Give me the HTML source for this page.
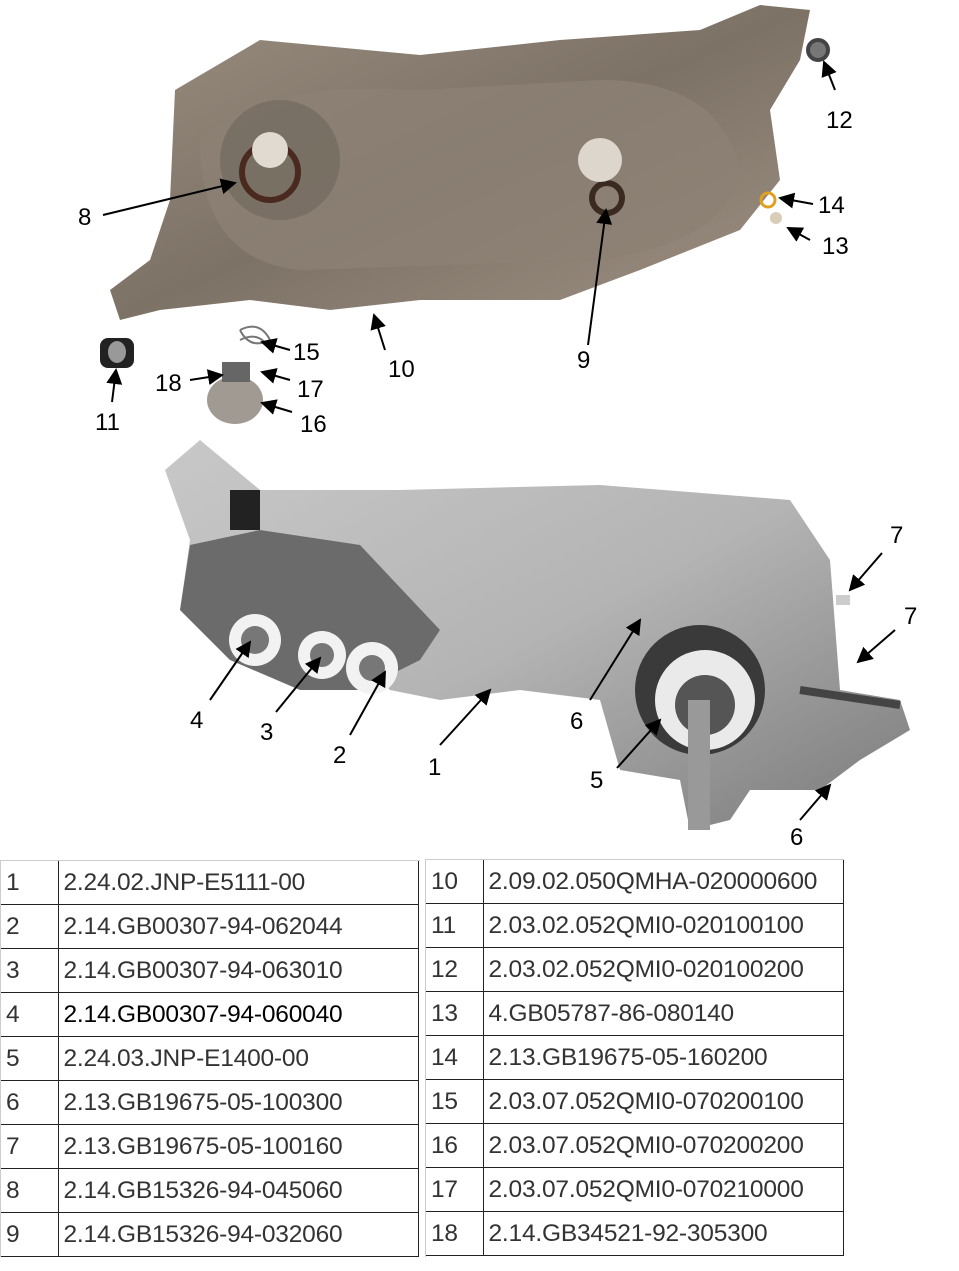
<!DOCTYPE html>
<html><head><meta charset="utf-8"><style>
body{margin:0;width:959px;height:1271px;background:#fff;position:relative;overflow:hidden;font-family:"Liberation Sans",Calibri,sans-serif}
svg{position:absolute;left:0;top:0}
.t{position:absolute;border-collapse:collapse;font-size:24.5px;color:#333;letter-spacing:-0.2px}
.t td{height:43px;border-bottom:1.5px solid #222;padding:0 0 0 5px;line-height:43px;white-space:nowrap}
.t td.a{border-right:1.5px solid #222}
</style></head><body>
<svg width="959" height="850" viewBox="0 0 959 850">
<defs>
<linearGradient id="u" x1="0" y1="0" x2="1" y2="1"><stop offset="0" stop-color="#9a8e80"/><stop offset=".5" stop-color="#7d7266"/><stop offset="1" stop-color="#a09285"/></linearGradient>
<linearGradient id="l" x1="0" y1="0" x2="1" y2="1"><stop offset="0" stop-color="#c8c8c8"/><stop offset=".5" stop-color="#b4b4b4"/><stop offset="1" stop-color="#7a7a7a"/></linearGradient>
<marker id="ar" markerWidth="8" markerHeight="8" refX="7" refY="4" orient="auto"><path d="M0,0L8,4L0,8z" fill="#000"/></marker>
</defs>
<path d="M175,90 L260,40 L420,55 L560,40 L700,30 L760,5 L810,10 L800,60 L770,110 L780,180 L740,230 L640,270 L560,300 L420,300 L330,310 L250,300 L160,310 L120,320 L110,290 L150,260 L170,200 Z" fill="url(#u)"/>
<path d="M200,140 Q260,80 420,90 L600,80 Q720,80 740,170 Q730,240 600,260 L300,270 Q200,260 200,140Z" fill="#8c8174" opacity=".8"/>
<circle cx="280" cy="160" r="60" fill="#6e655b" opacity=".6"/>
<circle cx="270" cy="172" r="28" fill="none" stroke="#4a2a1f" stroke-width="6"/>
<circle cx="270" cy="150" r="18" fill="#e0dad0"/>
<circle cx="607" cy="198" r="15" fill="none" stroke="#3a2a22" stroke-width="6"/>
<circle cx="600" cy="160" r="22" fill="#ddd6cc"/>
<circle cx="818" cy="50" r="10" fill="#777" stroke="#444" stroke-width="4"/>
<circle cx="768" cy="200" r="7" fill="none" stroke="#e0a020" stroke-width="3"/>
<circle cx="776" cy="218" r="6" fill="#d8cdb8"/>
<rect x="100" y="338" width="34" height="30" rx="8" fill="#222"/><ellipse cx="117" cy="352" rx="9" ry="11" fill="#999"/>
<path d="M240,330 q20,-10 30,10 q-20,10 -30,-10 m0,10 q20,-10 30,10" stroke="#777" fill="none" stroke-width="2"/>
<ellipse cx="235" cy="400" rx="28" ry="24" fill="#a09a92"/>
<rect x="222" y="362" width="28" height="20" fill="#666"/>
<path d="M165,470 L200,440 L260,490 L400,490 L600,485 L790,500 L830,560 L840,690 L900,700 L910,730 L860,760 L820,790 L750,790 L730,820 L690,830 L680,780 L620,770 L600,700 L520,690 L440,700 L390,690 L380,680 L300,680 L230,660 L180,610 L190,540 Z" fill="url(#l)"/>
<path d="M190,545 L260,530 L360,545 L440,630 L420,660 L360,690 L300,690 L230,660 L180,610Z" fill="#6b6b6b"/>
<circle cx="255" cy="640" r="26" fill="#f2f2f2"/><circle cx="255" cy="640" r="14" fill="#777"/>
<circle cx="322" cy="655" r="24" fill="#f2f2f2"/><circle cx="322" cy="655" r="12" fill="#777"/>
<circle cx="372" cy="668" r="26" fill="#f2f2f2"/><circle cx="372" cy="668" r="13" fill="#777"/>
<rect x="230" y="490" width="30" height="40" fill="#222"/>
<circle cx="700" cy="690" r="65" fill="#3a3a3a"/><circle cx="705" cy="700" r="50" fill="#eaeaea"/><circle cx="705" cy="705" r="30" fill="#555"/>
<rect x="688" y="700" width="22" height="130" fill="#999"/>
<path d="M800,690 L900,705" stroke="#444" stroke-width="8"/>
<rect x="836" y="595" width="14" height="10" fill="#ccc"/>
<g stroke="#000" stroke-width="2" fill="none" marker-end="url(#ar)">
<line x1="103" y1="215" x2="235" y2="183"/>
<line x1="588" y1="345" x2="606" y2="210"/>
<line x1="385" y1="350" x2="374" y2="315"/>
<line x1="112" y1="402" x2="116" y2="370"/>
<line x1="835" y1="90" x2="824" y2="62"/>
<line x1="813" y1="204" x2="780" y2="198"/>
<line x1="810" y1="240" x2="788" y2="228"/>
<line x1="290" y1="350" x2="262" y2="342"/>
<line x1="290" y1="380" x2="262" y2="372"/>
<line x1="190" y1="380" x2="222" y2="375"/>
<line x1="292" y1="412" x2="262" y2="403"/>
<line x1="210" y1="700" x2="250" y2="642"/>
<line x1="276" y1="712" x2="320" y2="658"/>
<line x1="350" y1="735" x2="385" y2="672"/>
<line x1="440" y1="745" x2="490" y2="690"/>
<line x1="590" y1="700" x2="640" y2="620"/>
<line x1="617" y1="768" x2="660" y2="720"/>
<line x1="882" y1="553" x2="850" y2="590"/>
<line x1="895" y1="630" x2="858" y2="662"/>
<line x1="800" y1="820" x2="830" y2="785"/>
</g>
<g font-family="Liberation Sans, sans-serif" font-size="24" fill="#000">
<text x="78" y="225">8</text><text x="577" y="368">9</text><text x="388" y="377">10</text>
<text x="95" y="430">11</text><text x="826" y="128">12</text><text x="818" y="213">14</text>
<text x="822" y="254">13</text><text x="293" y="360">15</text><text x="297" y="397">17</text>
<text x="155" y="391">18</text><text x="300" y="432">16</text>
<text x="190" y="728">4</text><text x="260" y="740">3</text><text x="333" y="763">2</text>
<text x="428" y="775">1</text><text x="570" y="729">6</text><text x="590" y="788">5</text>
<text x="890" y="543">7</text><text x="904" y="624">7</text><text x="790" y="845">6</text>
</g>
</svg>
<div style="position:absolute;left:0;top:860px;width:419px;border-top:1.5px solid #ccc;border-left:1.5px solid #ccc;height:396px"></div>
<table class="t" style="left:1px;top:861px;width:418px"><colgroup><col style="width:57px"><col></colgroup>
<tr><td class="a">1</td><td class="a">2.24.02.JNP-E5111-00</td></tr>
<tr><td class="a">2</td><td class="a">2.14.GB00307-94-062044</td></tr>
<tr><td class="a">3</td><td class="a">2.14.GB00307-94-063010</td></tr>
<tr><td class="a">4</td><td class="a" style="color:#000">2.14.GB00307-94-060040</td></tr>
<tr><td class="a">5</td><td class="a">2.24.03.JNP-E1400-00</td></tr>
<tr><td class="a">6</td><td class="a">2.13.GB19675-05-100300</td></tr>
<tr><td class="a">7</td><td class="a">2.13.GB19675-05-100160</td></tr>
<tr><td class="a">8</td><td class="a">2.14.GB15326-94-045060</td></tr>
<tr><td class="a">9</td><td class="a">2.14.GB15326-94-032060</td></tr>
</table>
<div style="position:absolute;left:425px;top:859px;width:418px;border-top:1.5px solid #ccc;border-left:1.5px solid #ccc;height:397px"></div>
<table class="t" style="left:426px;top:860px;width:418px"><colgroup><col style="width:57px"><col></colgroup>
<tr><td class="a">10</td><td class="a">2.09.02.050QMHA-020000600</td></tr>
<tr><td class="a">11</td><td class="a">2.03.02.052QMI0-020100100</td></tr>
<tr><td class="a">12</td><td class="a">2.03.02.052QMI0-020100200</td></tr>
<tr><td class="a">13</td><td class="a">4.GB05787-86-080140</td></tr>
<tr><td class="a">14</td><td class="a">2.13.GB19675-05-160200</td></tr>
<tr><td class="a">15</td><td class="a">2.03.07.052QMI0-070200100</td></tr>
<tr><td class="a">16</td><td class="a">2.03.07.052QMI0-070200200</td></tr>
<tr><td class="a">17</td><td class="a">2.03.07.052QMI0-070210000</td></tr>
<tr><td class="a">18</td><td class="a">2.14.GB34521-92-305300</td></tr>
</table>
</body></html>
